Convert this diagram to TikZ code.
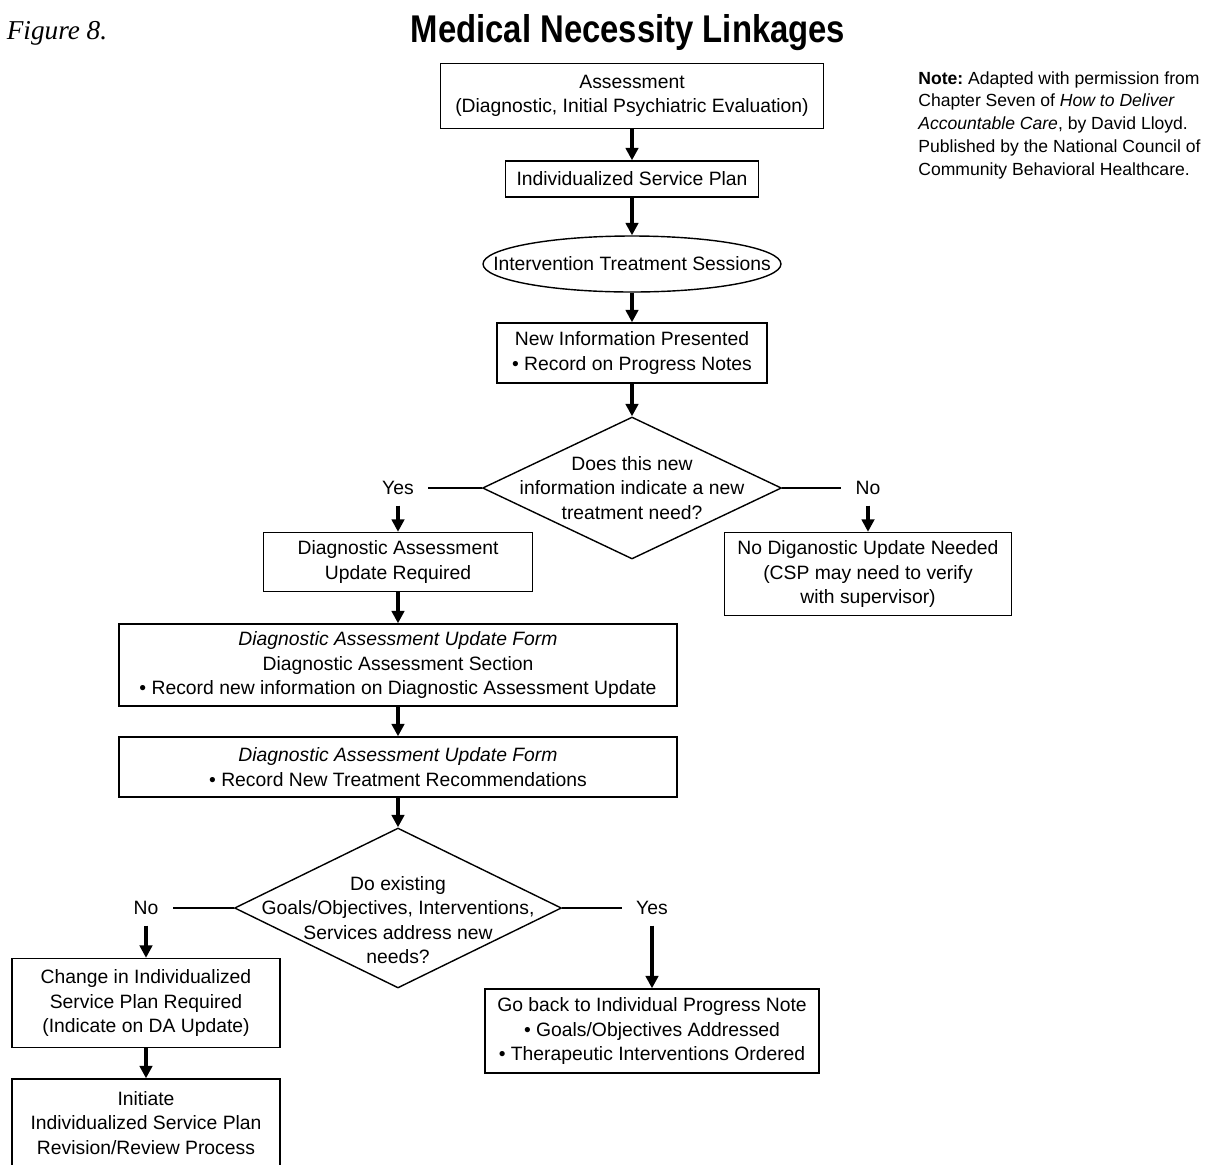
\documentclass[tikz,border=0pt]{standalone}
\usepackage{graphicx}
\usepackage{fontspec}
\setmainfont{Liberation Sans}
\newfontfamily\figfont{Liberation Serif}
\usetikzlibrary{arrows.meta, shapes.geometric}

\begin{document}
\begin{tikzpicture}[x=0.02cm, y=-0.02cm,
    box/.style={draw, line width=0.8pt, align=center, inner sep=2pt,
                font=\fontsize{11}{14}\selectfont},
    oval/.style={draw, ellipse, line width=0.8pt, inner sep=0pt},
    decision/.style={draw, diamond, line width=0.8pt, inner sep=0pt},
    qtext/.style={align=center, font=\fontsize{11}{14}\selectfont},
    lbl/.style={font=\fontsize{11}{14}\selectfont, inner xsep=8pt, inner ysep=6pt},
    arr/.style={-{Triangle[length=2.5mm, width=2.5mm]}, line width=1.8pt},
    link/.style={line width=1.2pt},
]
\useasboundingbox (0,0) rectangle (1211,1164);

% Heading
\node[font={\figfont\itshape\fontsize{15.5}{18}\selectfont}] (figlbl) at (57,33) {Figure 8.};
\node (title) at (628,33) {\scalebox{0.85}[1]{\fontsize{22}{26}\selectfont\bfseries Medical Necessity Linkages}};

% Note
\node[anchor=north west, align=left, inner sep=0pt, font=\fontsize{10}{13}\selectfont] (note) at (918,71) {
  \textbf{Note:}\ Adapted with permission from\\
  Chapter Seven of \textit{How to Deliver}\\
  \textit{Accountable Care}, by David Lloyd.\\
  Published by the National Council of\\
  Community Behavioral Healthcare.
};

% Main column
\node[box, minimum width=7.66cm, minimum height=1.3cm] (assess) at (632,96) {
  Assessment\\(Diagnostic, Initial Psychiatric Evaluation)
};
\node[box, minimum width=5.06cm, minimum height=0.72cm] (isp) at (632,179) {Individualized Service Plan};
\node[oval, minimum width=5.96cm, minimum height=1.12cm] (sessions) at (632,264) {};
\node[qtext] (sessionstxt) at (sessions) {Intervention Treatment Sessions};
\node[box, minimum width=5.4cm, minimum height=1.2cm] (newinfo) at (632,353) {
  New Information Presented\\\textbullet\ Record on Progress Notes
};

% First decision
\node[decision, minimum width=5.98cm, minimum height=2.84cm] (q1) at (632,488) {};
\node[qtext] (q1txt) at (q1) {Does this new\\information indicate a new\\treatment need?};
\node[lbl] (yes1) at (398,488) {Yes};
\node[lbl] (no1) at (868,488) {No};

\node[box, minimum width=5.38cm, minimum height=1.18cm] (dareq) at (398,562) {
  Diagnostic Assessment\\Update Required
};
\node[box, minimum width=5.74cm, minimum height=1.66cm] (noupd) at (868,574) {
  No Diganostic Update Needed\\(CSP may need to verify\\with supervisor)
};
\node[box, minimum width=11.16cm, minimum height=1.64cm] (daform) at (398,665) {
  \textit{Diagnostic Assessment Update Form}\\
  Diagnostic Assessment Section\\
  \textbullet\ Record new information on Diagnostic Assessment Update
};
\node[box, minimum width=11.16cm, minimum height=1.2cm] (darec) at (398,767) {
  \textit{Diagnostic Assessment Update Form}\\
  \textbullet\ Record New Treatment Recommendations
};

% Second decision
\node[decision, minimum width=6.54cm, minimum height=3.2cm] (q2) at (398,908) {};
\node[qtext] (q2txt) at (398,920) {Do existing\\Goals/Objectives, Interventions,\\Services address new\\needs?};
\node[lbl] (no2) at (146,908) {No};
\node[lbl] (yes2) at (652,908) {Yes};

\node[box, minimum width=5.36cm, minimum height=1.78cm] (change) at (146,1003) {
  Change in Individualized\\Service Plan Required\\(Indicate on DA Update)
};
\node[box, minimum width=5.36cm, minimum height=1.76cm] (initiate) at (146,1123) {
  Initiate\\Individualized Service Plan\\Revision/Review Process
};
\node[box, minimum width=6.68cm, minimum height=1.68cm] (goback) at (652,1031) {
  Go back to Individual Progress Note\\
  \textbullet\ Goals/Objectives Addressed\\
  \textbullet\ Therapeutic Interventions Ordered
};

% Connectors
\draw[arr] (assess.south) -- (isp.north);
\draw[arr] (isp.south) -- (sessions.north);
\draw[arr] (sessions.south) -- (newinfo.north);
\draw[arr] (newinfo.south) -- (q1.north);
\draw[link] (q1.west) -- (yes1.east);
\draw[link] (q1.east) -- (no1.west);
\draw[arr] (yes1.south) -- (dareq.north);
\draw[arr] (no1.south) -- (noupd.north);
\draw[arr] (dareq.south) -- (daform.north);
\draw[arr] (daform.south) -- (darec.north);
\draw[arr] (darec.south) -- (q2.north);
\draw[link] (q2.west) -- (no2.east);
\draw[link] (q2.east) -- (yes2.west);
\draw[arr] (no2.south) -- (change.north);
\draw[arr] (yes2.south) -- (goback.north);
\draw[arr] (change.south) -- (initiate.north);

\end{tikzpicture}
\end{document}
